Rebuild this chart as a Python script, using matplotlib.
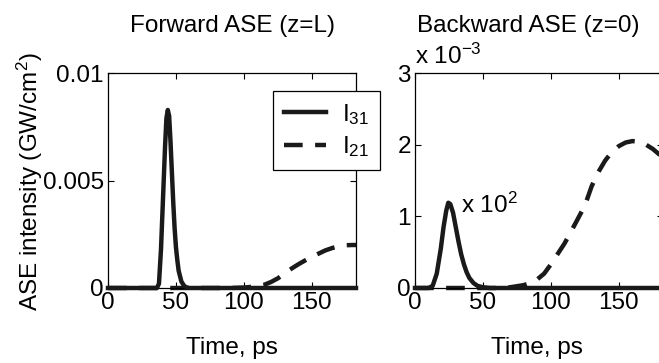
import numpy as np
import matplotlib
matplotlib.use("Agg")
import matplotlib.pyplot as plt
from matplotlib.ticker import FixedLocator

plt.rcParams['font.family'] = ['Liberation Sans', 'DejaVu Sans']
plt.rcParams['mathtext.fontset'] = 'custom'
plt.rcParams['mathtext.rm'] = 'Liberation Sans'
plt.rcParams['mathtext.it'] = 'Liberation Sans:italic'
plt.rcParams['font.size'] = 17.5

# Forward ASE at z=L (GW/cm^2) vs time (ps)
fwd_t31 = [0, 36, 37.5, 39, 40.5, 42, 43, 44, 45, 46, 47, 48, 49, 50, 51, 52,
           54, 56, 58, 60, 182.5]
fwd_i31 = [0, 0, 0.0002, 0.0018, 0.0042, 0.0066, 0.0079, 0.00828, 0.0080,
           0.0068, 0.0054, 0.0040, 0.0028, 0.0019, 0.0013, 0.0008, 0.0003,
           0.0001, 0.00002, 0, 0]
fwd_t21 = [0, 90, 100, 110, 115, 120, 125, 130, 135, 140, 145, 150, 155, 160,
           165, 170, 175, 180, 182.5]
fwd_i21 = [0, 0, 0.00002, 0.00008, 0.00015, 0.00028, 0.00045, 0.00068,
           0.0009, 0.0011, 0.00128, 0.00145, 0.0016, 0.00175, 0.00186,
           0.00194, 0.00199, 0.0020, 0.0020]

# Backward ASE at z=0; I31 is shown magnified x100
bwd_t31 = [0, 10, 13, 16, 19, 21, 23, 24.5, 26, 28, 30, 32, 34, 36, 38, 40,
           43, 46, 50, 55, 182.5]
bwd_i31 = [0, 0, 0.03e-5, 0.2e-5, 0.55e-5, 0.85e-5, 1.08e-5, 1.19e-5,
           1.17e-5, 1.05e-5, 0.85e-5, 0.65e-5, 0.47e-5, 0.33e-5, 0.22e-5,
           0.14e-5, 0.07e-5, 0.03e-5, 0.01e-5, 0, 0]
bwd_scale = 1e2
bwd_t21 = [0, 60, 70, 80, 88, 95, 100, 110, 118, 125, 130, 135, 140, 145, 150,
           155, 160, 165, 170, 175, 180, 182.5]
bwd_i21 = [0, 0, 0.01e-3, 0.04e-3, 0.09e-3, 0.2e-3, 0.33e-3, 0.62e-3, 0.9e-3,
           1.15e-3, 1.42e-3, 1.62e-3, 1.78e-3, 1.9e-3, 1.98e-3, 2.03e-3,
           2.05e-3, 2.04e-3, 2.0e-3, 1.94e-3, 1.86e-3, 1.81e-3]

line_color = '#1a1a1a'
lw = 3.2
dash = (4.2, 2.8)

fig = plt.figure(figsize=(6.59, 3.63), dpi=100)
ax1 = fig.add_axes([108 / 659, 1 - 288 / 363, 248 / 659, 215 / 363])
ax2 = fig.add_axes([415 / 659, 1 - 288 / 363, 248 / 659, 215 / 363])

for ax in (ax1, ax2):
    ax.set_xlim(0, 182.5)
    ax.xaxis.set_major_locator(FixedLocator([0, 50, 100, 150]))
    ax.tick_params(direction='in', length=4, width=0.8, top=True, right=True,
                   labelsize=17.5, pad=3)
    for s in ax.spines.values():
        s.set_linewidth(0.9)

# left panel: forward ASE
h31, = ax1.plot(fwd_t31, fwd_i31, color=line_color, lw=lw, clip_on=False,
                label=r'$\mathregular{I_{31}}$', zorder=3)
h21, = ax1.plot(fwd_t21, fwd_i21, color=line_color, lw=lw, clip_on=False,
                dashes=dash, label=r'$\mathregular{I_{21}}$', zorder=2)
ax1.set_ylim(0, 0.01)
ax1.set_yticks([0, 0.005, 0.01])
ax1.set_yticklabels(['0', '0.005', '0.01'])
ax1.text(0.5, 1 + 41 / 215, 'Forward ASE (z=L)', transform=ax1.transAxes,
         ha='center', va='baseline', fontsize=17.5)
ax1.text(0.5, -(348 - 288) / 215, 'Time, ps', transform=ax1.transAxes,
         ha='center', va='center', fontsize=17.5)
fig.text(30 / 659, 1 - 182 / 363, r'ASE intensity (GW/cm$^\mathregular{2}$)',
         rotation=90, ha='center', va='center', fontsize=17.5)

leg = ax1.legend(handles=[h31, h21], loc='upper left',
                 bbox_to_anchor=(273 / 659, 1 - 91 / 363),
                 bbox_transform=fig.transFigure, frameon=True, fancybox=False,
                 edgecolor='black', framealpha=1, fontsize=17.5,
                 handlelength=1.74, handletextpad=0.64, borderpad=0.45,
                 labelspacing=0.3, borderaxespad=0)
leg.get_frame().set_linewidth(0.9)
leg.set_zorder(5)

# right panel: backward ASE
ax2.plot(bwd_t21, bwd_i21, color=line_color, lw=lw, clip_on=False,
         dashes=dash, zorder=2)
ax2.plot(bwd_t31, np.array(bwd_i31) * bwd_scale, color=line_color, lw=lw,
         clip_on=False, zorder=3)
ax2.set_ylim(0, 3e-3)
ax2.set_yticks([0, 1e-3, 2e-3, 3e-3])
ax2.set_yticklabels(['0', '1', '2', '3'])
ax2.text(0, 1 + 9 / 215, r'x 10$^\mathregular{-3}$', transform=ax2.transAxes,
         ha='left', va='baseline', fontsize=17.5)
ax2.text(33.5, 1.16e-3, r'x 10$^\mathregular{2}$', ha='left', va='center',
         fontsize=17.5)
ax2.text((528 - 415) / 248, 1 + 41 / 215, 'Backward ASE (z=0)',
         transform=ax2.transAxes, ha='center', va='baseline', fontsize=17.5)
ax2.text((537 - 415) / 248, -(348 - 288) / 215, 'Time, ps',
         transform=ax2.transAxes, ha='center', va='center', fontsize=17.5)

fig.savefig('out.png', dpi=100)
